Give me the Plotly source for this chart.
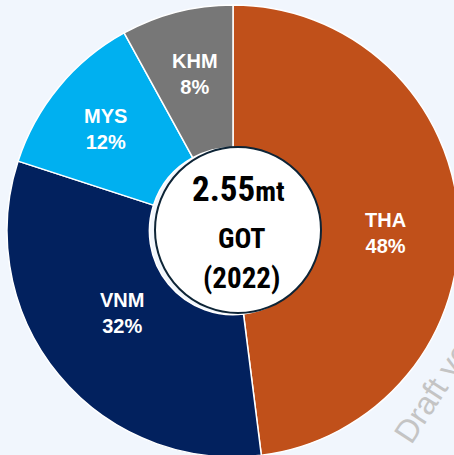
import plotly.graph_objects as go

labels = ["THA", "VNM", "MYS", "KHM"]
shares = [48, 32, 12, 8]
colors = ["#C0501A", "#02215E", "#00B0F0", "#777777"]
center_value = "2.55"
center_unit = "mt"
center_product = "GOT"
center_year = "(2022)"

# label block centres in page pixels (styling)
label_pos = [(385, 233), (122, 313), (105, 129), (195, 74)]

W, H = 466, 462

fig = go.Figure(go.Pie(
    labels=labels,
    values=shares,
    sort=False,
    direction="clockwise",
    rotation=0,
    hole=0.37,
    marker=dict(colors=colors, line=dict(color="white", width=1.5)),
    textinfo="none",
    domain=dict(x=[0.015, 0.985], y=[0, 1]),
    showlegend=False,
    hoverinfo="skip",
))

def px(x):
    return x / W

def py(y):
    return 1 - y / H

lfont = "Liberation Sans, Arial, sans-serif"
for lab, val, (lx, ly) in zip(labels, shares, label_pos):
    fig.add_annotation(xref="paper", yref="paper", x=px(lx), y=py(ly),
                       xanchor="center", yanchor="middle",
                       text=f"<b>{lab}</b><br><b>{val}%</b>", showarrow=False,
                       font=dict(family=lfont, size=20, color="white"))

fig.add_shape(type="circle", xref="paper", yref="paper",
              x0=px(155), x1=px(321), y0=py(313), y1=py(147),
              fillcolor="white", line=dict(color="#0D2436", width=2))

cfont = "Liberation Sans Narrow, Roboto Condensed, Arial Narrow, sans-serif"
fig.add_annotation(xref="paper", yref="paper", x=px(238), y=py(190),
                   xanchor="center", yanchor="middle",
                   text=f"<b><span style='font-size:35px'>{center_value}</span><span style='font-size:28px'>{center_unit}</span></b>",
                   showarrow=False, font=dict(family=cfont, color="black"))
fig.add_annotation(xref="paper", yref="paper", x=px(241), y=py(238),
                   xanchor="center", yanchor="middle",
                   text=f"<b>{center_product}</b>", showarrow=False,
                   font=dict(family=cfont, size=28, color="black"))
fig.add_annotation(xref="paper", yref="paper", x=px(241), y=py(278),
                   xanchor="center", yanchor="middle",
                   text=f"<b>{center_year}</b>", showarrow=False,
                   font=dict(family=cfont, size=29, color="black"))

fig.add_annotation(xref="paper", yref="paper", x=px(451), y=py(364),
                   xanchor="center", yanchor="middle",
                   text="Draft version", showarrow=False, textangle=-57,
                   font=dict(family=lfont, size=32, color="#C4C4C4"))

fig.update_layout(width=W, height=H, margin=dict(l=0, r=0, t=0, b=0),
                  paper_bgcolor="#F1F6FD", plot_bgcolor="#F1F6FD")

fig.write_html("out.html", config={"displayModeBar": False},
               post_script="document.body.style.margin='0';document.body.style.overflow='hidden';")
